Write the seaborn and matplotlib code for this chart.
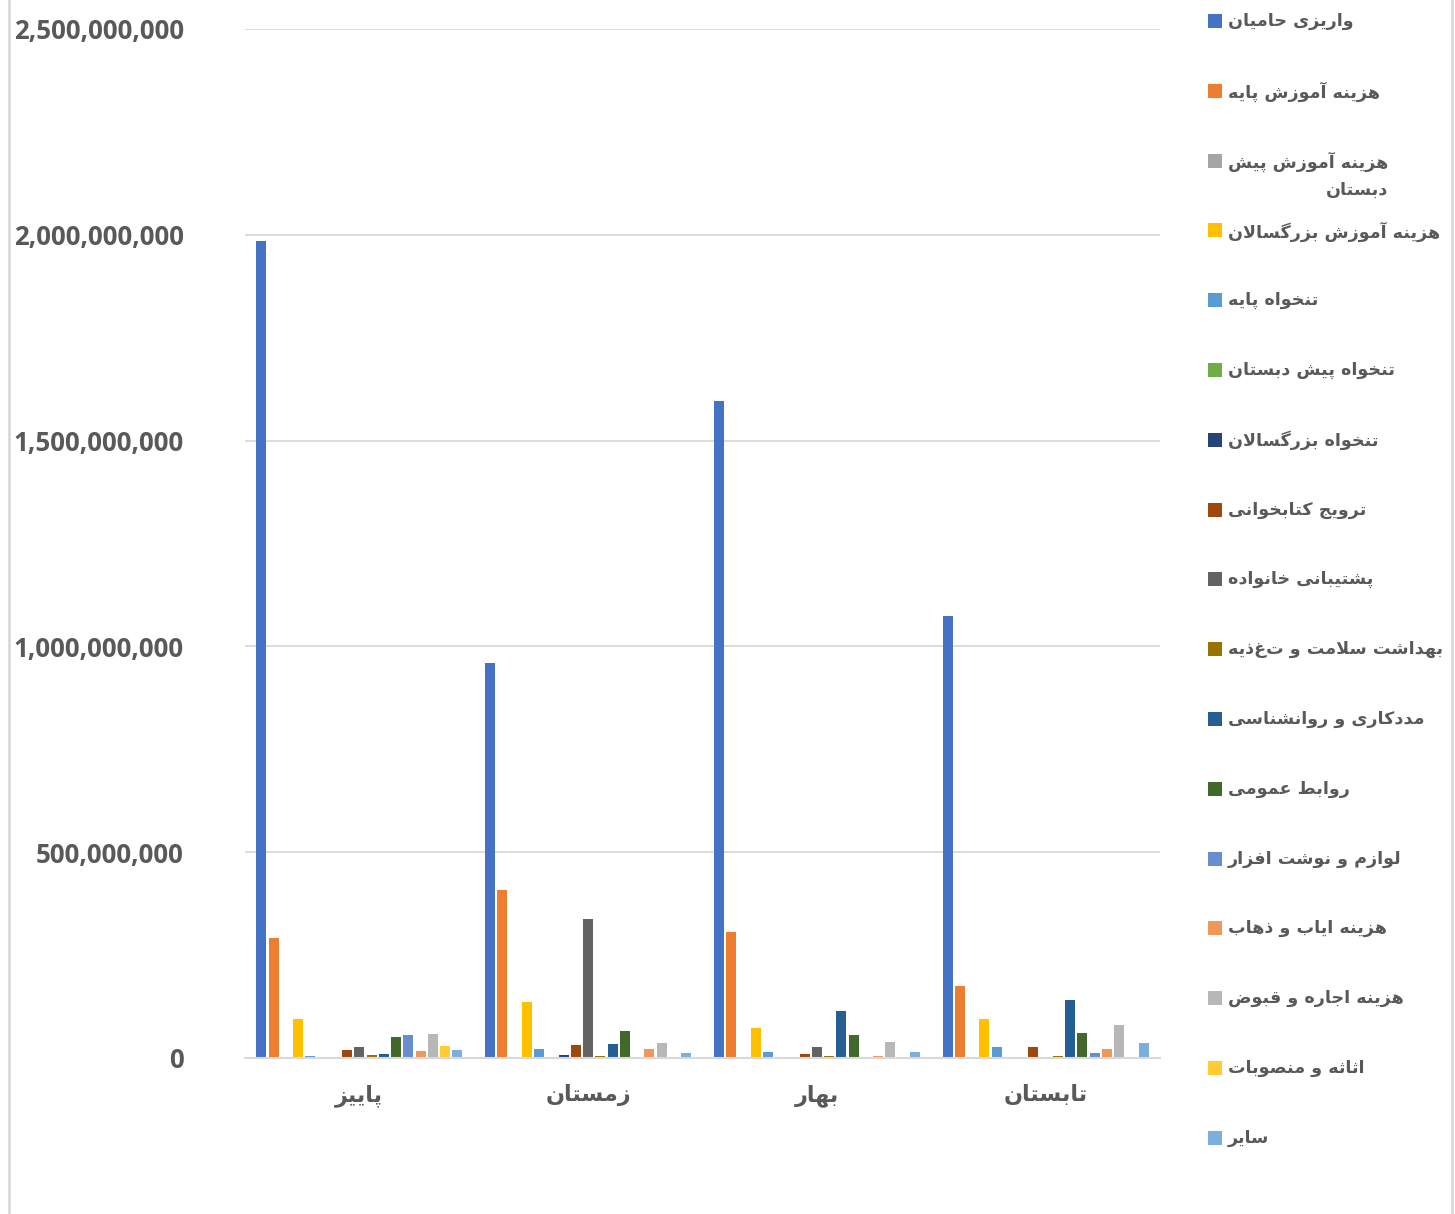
import numpy as np
import pandas as pd
import matplotlib
matplotlib.use("Agg")
import matplotlib.pyplot as plt
from matplotlib.lines import Line2D
from matplotlib.patches import Rectangle
import seaborn as sns

seasons = ["پاییز", "زمستان", "بهار", "تابستان"]

items = ["واریزی حامیان", "هزینه آموزش پایه", "هزینه آموزش پیش\nدبستان",
         "هزینه آموزش بزرگسالان", "تنخواه پایه", "تنخواه پیش دبستان",
         "تنخواه بزرگسالان", "ترویج کتابخوانی", "پشتیبانی خانواده",
         "بهداشت سلامت و تغذیه", "مددکاری و روانشناسی", "روابط عمومی",
         "لوازم و نوشت افزار", "هزینه ایاب و ذهاب", "هزینه اجاره و قبوض",
         " اثاثه و منصوبات", "سایر"]

# values per season, in millions (order = items)
autumn = [1985, 291, 0, 95, 6, 0, 1.5, 20, 26, 8, 10, 52, 57, 16, 58, 30, 19]
winter = [959, 407, 0, 136, 23, 0, 6.5, 32, 337, 5.7, 34, 66, 1.5, 21, 37, 0, 13]
spring = [1595, 306, 0, 73, 15, 0, 0, 10, 27, 5, 114, 56, 0, 5.6, 39, 0, 14]
summer = [1075, 175, 0, 95, 27, 0, 1.5, 27, 0, 5.7, 140, 61, 13, 21, 81, 0, 36]

colors = ["#4472C4", "#ED7D31", "#A5A5A5", "#FFC000", "#5B9BD5", "#70AD47",
          "#264478", "#9E480E", "#636363", "#997300", "#255E91", "#43682B",
          "#698ED0", "#F1975A", "#B7B7B7", "#FFCD33", "#7CAFDD"]

# --- minimal arabic/persian shaping (matplotlib has no text shaping) ---
FORMS = {
    'ا': ('\uFE8D', '\uFE8E', None, None), 'آ': ('\uFE81', '\uFE82', None, None),
    'ب': ('\uFE8F', '\uFE90', '\uFE91', '\uFE92'), 'ت': ('\uFE95', '\uFE96', '\uFE97', '\uFE98'),
    'ث': ('\uFE99', '\uFE9A', '\uFE9B', '\uFE9C'), 'ج': ('\uFE9D', '\uFE9E', '\uFE9F', '\uFEA0'),
    'ح': ('\uFEA1', '\uFEA2', '\uFEA3', '\uFEA4'), 'خ': ('\uFEA5', '\uFEA6', '\uFEA7', '\uFEA8'),
    'د': ('\uFEA9', '\uFEAA', None, None), 'ذ': ('\uFEAB', '\uFEAC', None, None),
    'ر': ('\uFEAD', '\uFEAE', None, None), 'ز': ('\uFEAF', '\uFEB0', None, None),
    'س': ('\uFEB1', '\uFEB2', '\uFEB3', '\uFEB4'), 'ش': ('\uFEB5', '\uFEB6', '\uFEB7', '\uFEB8'),
    'ص': ('\uFEB9', '\uFEBA', '\uFEBB', '\uFEBC'), 'ض': ('\uFEBD', '\uFEBE', '\uFEBF', '\uFEC0'),
    'ط': ('\uFEC1', '\uFEC2', '\uFEC3', '\uFEC4'), 'ع': ('\uFEC9', '\uFECA', '\uFECB', '\uFECC'),
    'ف': ('\uFED1', '\uFED2', '\uFED3', '\uFED4'), 'ق': ('\uFED5', '\uFED6', '\uFED7', '\uFED8'),
    'ل': ('\uFEDD', '\uFEDE', '\uFEDF', '\uFEE0'), 'م': ('\uFEE1', '\uFEE2', '\uFEE3', '\uFEE4'),
    'ن': ('\uFEE5', '\uFEE6', '\uFEE7', '\uFEE8'), 'ه': ('\uFEE9', '\uFEEA', '\uFEEB', '\uFEEC'),
    'و': ('\uFEED', '\uFEEE', None, None), 'ی': ('\uFBFC', '\uFBFD', '\uFBFE', '\uFBFF'),
    'پ': ('\uFB56', '\uFB57', '\uFB58', '\uFB59'), 'ژ': ('\uFB8A', '\uFB8B', None, None),
    'گ': ('\uFB92', '\uFB93', '\uFB94', '\uFB95'), 'ک': ('\uFB8E', '\uFB8F', '\uFB90', '\uFB91'),
}
LAM_ALEF = {'ا': ('\uFEFB', '\uFEFC'), 'آ': ('\uFEF5', '\uFEF6')}


def dual(c):
    return c in FORMS and FORMS[c][2] is not None


def shape(text):
    lines = []
    for line in text.split("\n"):
        ch = list(line)
        n = len(ch)
        out = []
        i = 0
        while i < n:
            c = ch[i]
            prev_join = i > 0 and dual(ch[i - 1]) and c in FORMS
            if c == 'ل' and i + 1 < n and ch[i + 1] in LAM_ALEF:
                iso, fin = LAM_ALEF[ch[i + 1]]
                out.append(fin if prev_join else iso)
                i += 2
                continue
            if c in FORMS:
                next_join = dual(c) and i + 1 < n and ch[i + 1] in FORMS
                iso, fin, ini, med = FORMS[c]
                if prev_join and next_join:
                    out.append(med)
                elif prev_join:
                    out.append(fin)
                elif next_join:
                    out.append(ini)
                else:
                    out.append(iso)
            else:
                out.append(c)
            i += 1
        lines.append("".join(reversed(out)))
    return "\n".join(lines)


sns.set_theme(style="white")
plt.rcParams["font.family"] = ["DejaVu Sans"]

rows = []
for season, vals in zip(seasons, [autumn, winter, spring, summer]):
    for item, v in zip(items, vals):
        rows.append({"season": shape(season), "item": item, "value": v * 1e6})
df = pd.DataFrame(rows)

fig = plt.figure(figsize=(14.55, 12.14), dpi=100)
ax = fig.add_axes([245 / 1455, 1 - 1058 / 1214, 915 / 1455, 1029 / 1214])

sns.barplot(data=df, x="season", y="value", hue="item", hue_order=items,
            order=[shape(s) for s in seasons], palette=colors, saturation=1,
            width=0.91, gap=0.18, errorbar=None, legend=False, linewidth=0, ax=ax)

ax.set_ylim(0, 2.5e9)
ax.set_xlim(-0.5, 3.5)
ax.set_yticks(np.arange(0, 2.5e9 + 1, 5e8))
ax.yaxis.set_major_formatter(matplotlib.ticker.FuncFormatter(lambda v, p: f"{int(v):,}"))
ax.grid(axis="y", color="#d9d9d9", linewidth=1.3)
ax.set_axisbelow(True)
for s in ["left", "right", "top"]:
    ax.spines[s].set_visible(False)
ax.spines["bottom"].set_color("#d9d9d9")
ax.spines["bottom"].set_linewidth(1.5)
ax.set_xlabel("")
ax.set_ylabel("")
ax.tick_params(axis="y", length=0, pad=44)
ax.tick_params(axis="x", length=0, pad=19)
for t in ax.get_yticklabels():
    t.set_fontfamily(["Open Sans", "DejaVu Sans"])
    t.set_fontweight("bold")
    t.set_fontsize(18.6)
    t.set_color("#595959")
for t in ax.get_xticklabels():
    t.set_fontweight("bold")
    t.set_fontsize(16)
    t.set_color("#595959")

# legend on the right, fixed slots like the original
for i, (item, col) in enumerate(zip(items, colors)):
    yc = 21 + 69.8 * i
    fig.add_artist(Rectangle((1208 / 1455, 1 - (yc + 7) / 1214), 14 / 1455, 14 / 1214,
                             transform=fig.transFigure, color=col, lw=0))
    fig.text(1228 / 1455, 1 - (yc - 9) / 1214, shape(item), ha="left", va="top",
             fontsize=12.6, fontweight="bold", color="#595959",
             multialignment="right", linespacing=1.65)

for x in [9, 1452]:
    fig.add_artist(Line2D([x / 1455, x / 1455], [0, 1], transform=fig.transFigure,
                          color="#d9d9d9", lw=2))

fig.savefig("out.png", dpi=100, facecolor="white")
